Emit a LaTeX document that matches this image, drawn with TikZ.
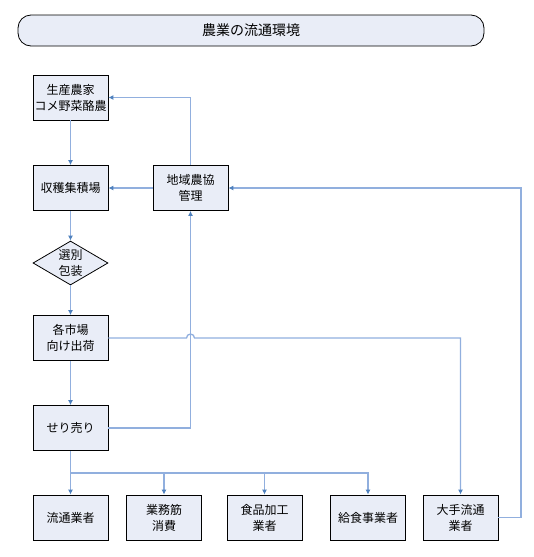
\documentclass[tikz,border=0pt]{standalone}
\usepackage{fontspec}
\newfontfamily\jp{Noto Sans CJK JP}
\usetikzlibrary{arrows.meta,shapes.geometric,calc}
\definecolor{boxfill}{RGB}{233,237,247}
\definecolor{linecol}{RGB}{145,175,222}
\definecolor{tipcol}{RGB}{79,129,189}
\tikzset{
  box/.style={draw=black, line width=0.8pt, fill=boxfill, minimum width=75pt,
    minimum height=45pt, align=center, inner sep=1pt,
    font=\jp\fontsize{12}{16}\selectfont},
  flow/.style={draw=linecol, line width=1.3pt,
    -{Latex[length=5pt,width=5pt,color=tipcol]}},
  line/.style={draw=linecol, line width=1.3pt}
}
\begin{document}
\begin{tikzpicture}[x=1pt,y=1pt]
\useasboundingbox (0,0) rectangle (534,-557);

% title
\node[draw=black, line width=0.8pt, fill=boxfill, rounded corners=13pt,
  minimum width=466pt, minimum height=31pt,
  font=\jp\fontsize{14}{16}\selectfont] (title) at (251,-30.5) {農業の流通環境};

% left column
\node[box] (seisan) at (70.5,-97.5) {生産農家\\コメ野菜酪農};
\node[box] (shuseki) at (70.5,-188) {収穫集積場};
\node[draw=black, line width=0.8pt, fill=boxfill, diamond, aspect=1.7,
  inner sep=0pt, minimum width=75pt, minimum height=44pt, align=center,
  font=\jp\fontsize{12}{16}\selectfont] (senbetsu) at (70.5,-263) {選別\\包装};
\node[box] (shijo) at (70.5,-338) {各市場\\向け出荷};
\node[box] (seri) at (70.5,-428) {せり売り};
\node[box] (nokyo) at (190.5,-188) {地域農協\\管理};

% buyers
\node[box] (ryutsu) at (70.5,-517.5) {流通業者};
\node[box] (gyomu) at (164,-517.5) {業務筋\\消費};
\node[box] (shokuhin) at (264.5,-517.5) {食品加工\\業者};
\node[box] (kyushoku) at (368,-517.5) {給食事業者};
\node[box] (ote) at (460.5,-517.5) {大手流通\\業者};

\coordinate (bunki) at (70.5,-473);
\coordinate (migi) at (521,-188);

\draw[flow] (seisan) -- (shuseki);
\draw[flow] (shuseki) -- (senbetsu);
\draw[flow] (senbetsu) -- (shijo);
\draw[flow] (shijo) -- (seri);
\draw[flow] (seri) -- (ryutsu);
\foreach \n in {gyomu,shokuhin,kyushoku}
  \draw[flow] (bunki) -| (\n.north);

\draw[flow] (nokyo.west) -- (shuseki.east);
\draw[flow] (nokyo.north) |- (seisan.east);
\draw[flow] (seri.east) -| (nokyo.south);
\draw[flow] (ote.east) -| (migi) -- (nokyo.east);

% market line jumps over the cooperative line
\draw[flow] (shijo.east) -- ($(shijo.east -| nokyo.south)+(-4,0)$)
  arc[start angle=180, end angle=0, radius=4pt] -| (ote.north);

\end{tikzpicture}
\end{document}
